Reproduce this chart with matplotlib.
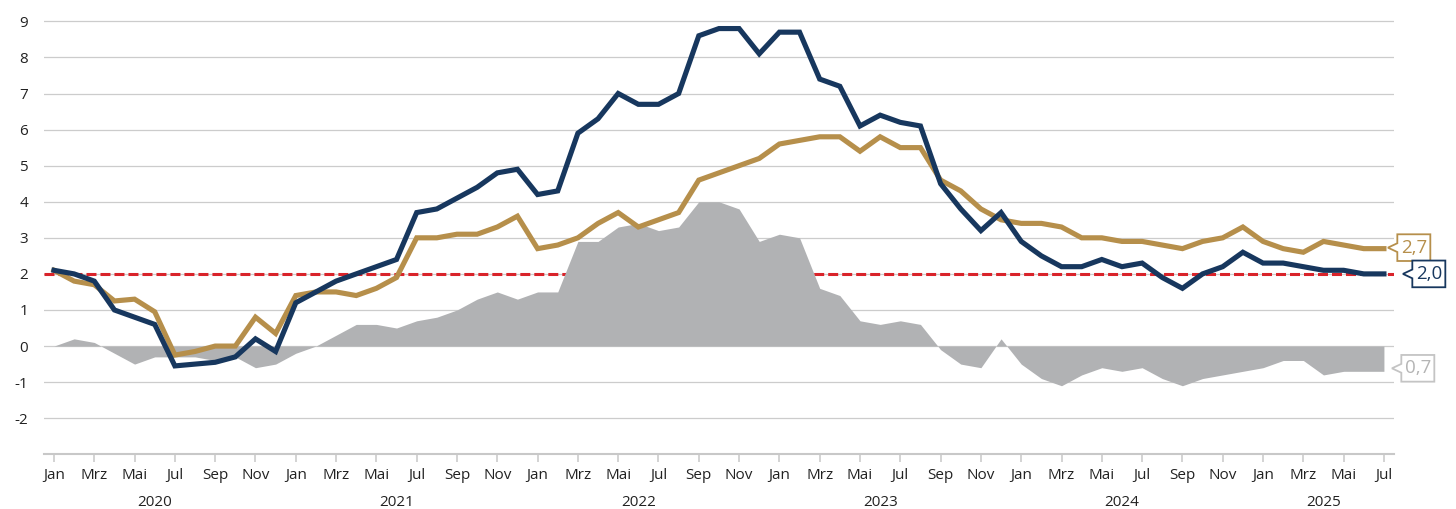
import matplotlib
matplotlib.use("Agg")
import matplotlib.pyplot as plt
from matplotlib.patches import Polygon
from matplotlib import transforms
import numpy as np

plt.rcParams['font.family'] = ['Open Sans', 'DejaVu Sans']
plt.rcParams['axes.unicode_minus'] = False

# ---- data (monthly, Jan 2020 .. Jul 2025) ----
years = [2020, 2021, 2022, 2023, 2024, 2025]
month_names = ['Jan', 'Feb', 'Mrz', 'Apr', 'Mai', 'Jun',
               'Jul', 'Aug', 'Sep', 'Okt', 'Nov', 'Dez']
n_months = 67

headline = [
    2.1, 2.0, 1.8, 1.0, 0.8, 0.6, -0.55, -0.5, -0.45, -0.3, 0.2, -0.15,
    1.2, 1.5, 1.8, 2.0, 2.2, 2.4, 3.7, 3.8, 4.1, 4.4, 4.8, 4.9,
    4.2, 4.3, 5.9, 6.3, 7.0, 6.7, 6.7, 7.0, 8.6, 8.8, 8.8, 8.1,
    8.7, 8.7, 7.4, 7.2, 6.1, 6.4, 6.2, 6.1, 4.5, 3.8, 3.2, 3.7,
    2.9, 2.5, 2.2, 2.2, 2.4, 2.2, 2.3, 1.9, 1.6, 2.0, 2.2, 2.6,
    2.3, 2.3, 2.2, 2.1, 2.1, 2.0, 2.0,
]
core = [
    2.1, 1.8, 1.7, 1.25, 1.3, 0.95, -0.25, -0.15, 0.0, 0.0, 0.8, 0.35,
    1.4, 1.5, 1.5, 1.4, 1.6, 1.9, 3.0, 3.0, 3.1, 3.1, 3.3, 3.6,
    2.7, 2.8, 3.0, 3.4, 3.7, 3.3, 3.5, 3.7, 4.6, 4.8, 5.0, 5.2,
    5.6, 5.7, 5.8, 5.8, 5.4, 5.8, 5.5, 5.5, 4.6, 4.3, 3.8, 3.5,
    3.4, 3.4, 3.3, 3.0, 3.0, 2.9, 2.9, 2.8, 2.7, 2.9, 3.0, 3.3,
    2.9, 2.7, 2.6, 2.9, 2.8, 2.7, 2.7,
]
spread = [
    0.0, 0.2, 0.1, -0.2, -0.5, -0.3, -0.3, -0.3, -0.4, -0.3, -0.6, -0.5,
    -0.2, 0.0, 0.3, 0.6, 0.6, 0.5, 0.7, 0.8, 1.0, 1.3, 1.5, 1.3,
    1.5, 1.5, 2.9, 2.9, 3.3, 3.4, 3.2, 3.3, 4.0, 4.0, 3.8, 2.9,
    3.1, 3.0, 1.6, 1.4, 0.7, 0.6, 0.7, 0.6, -0.1, -0.5, -0.6, 0.2,
    -0.5, -0.9, -1.1, -0.8, -0.6, -0.7, -0.6, -0.9, -1.1, -0.9, -0.8, -0.7,
    -0.6, -0.4, -0.4, -0.8, -0.7, -0.7, -0.7,
]
target = 2.0
y_ticks = list(range(-2, 10))

# ---- colours ----
BLUE = '#17375e'
GOLD = '#b68f4b'
GREY = '#b1b2b4'
RED = '#d9232a'
GRID = '#cccccc'
TXT = '#222222'

x = np.arange(n_months)

fig = plt.figure(figsize=(14.56, 5.09), dpi=100)
ax = fig.add_axes([43.9 / 1456, 54.7 / 509, (1394 - 43.9) / 1456, 451 / 509])
ax.set_xlim(-0.5, n_months - 0.5)
ax.set_ylim(-3, 9.5)

# grid
ax.set_yticks(y_ticks)
ax.set_yticklabels([str(v) for v in y_ticks])
ax.yaxis.grid(True, color=GRID, lw=0.9, zorder=0)
ax.set_axisbelow(True)
for s in ['top', 'right', 'left']:
    ax.spines[s].set_visible(False)
ax.spines['bottom'].set_color('#c8c8c8')
ax.spines['bottom'].set_linewidth(1.5)
ax.tick_params(axis='y', length=0, pad=11.5, labelsize=11, labelcolor=TXT)

# x ticks: every second month
tick_pos = list(range(0, n_months, 2))
tick_lab = [month_names[i % 12] for i in tick_pos]
ax.set_xticks(tick_pos)
ax.set_xticklabels(tick_lab)
ax.tick_params(axis='x', length=5.8, width=1.1, color='#c8c8c8', pad=4,
               labelsize=11, labelcolor=TXT)

# year labels centred below their labelled months
for k, yr in enumerate(years):
    ticks_in_year = [t for t in tick_pos if t // 12 == k]
    cx = (ticks_in_year[0] + ticks_in_year[-1]) / 2
    ax.text(cx, -0.107, str(yr), transform=ax.get_xaxis_transform(),
            ha='center', va='center', fontsize=11, color=TXT)

# target line
ax.axhline(target, color=RED, lw=2.2, dashes=(3.27, 1.31), zorder=1.5)

# spread area
ax.fill_between(x, 0, spread, color=GREY, lw=0, zorder=2)

# lines
ax.plot(x, core, color=GOLD, lw=3.7, solid_joinstyle='miter', zorder=3)
ax.plot(x, headline, color=BLUE, lw=3.7, solid_joinstyle='miter', zorder=4)


def callout(value, text, edge, tcolor, tip_dx, dy=0.0):
    """Box with a left-pointing notch; geometry in pixels relative to the
    last data point."""
    w, h = 33.0, 26.7
    nw, nh = 9.4, 4.4
    bl = tip_dx + nw
    verts = [(bl, h / 2), (bl + w, h / 2), (bl + w, -h / 2), (bl, -h / 2),
             (bl, -nh), (tip_dx, 0), (bl, nh)]
    verts = [(vx / 100.0, (vy + dy) / 100.0) for vx, vy in verts]
    trans = fig.dpi_scale_trans + transforms.ScaledTranslation(
        x[-1], value, ax.transData)
    poly = Polygon(verts, closed=True, facecolor='white', edgecolor=edge,
                   lw=1.3, transform=trans, clip_on=False, zorder=6,
                   joinstyle='miter')
    ax.add_patch(poly)
    ttrans = transforms.offset_copy(ax.transData, fig=fig,
                                    x=bl + w / 2, y=dy, units='dots')
    ax.text(x[-1], value, text, transform=ttrans, ha='center', va='center',
            fontsize=13.5, color=tcolor, zorder=7, clip_on=False)


def fmt(v):
    return f"{abs(v):.1f}".replace('.', ',')


callout(core[-1], fmt(core[-1]), GOLD, GOLD, 4.0, dy=1.0)
callout(headline[-1], fmt(headline[-1]), BLUE, BLUE, 19.0)
callout(spread[-1], fmt(spread[-1]), '#c4c4c4', '#b4b4b4', 8.0, dy=3.0)

fig.savefig('out.png', dpi=100)
